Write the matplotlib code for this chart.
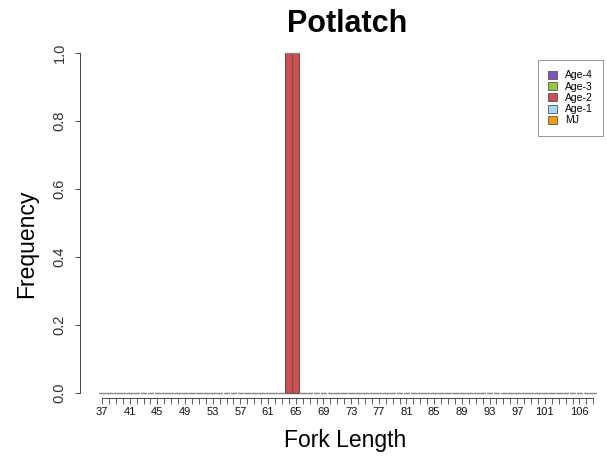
import matplotlib
matplotlib.use("Agg")
import matplotlib.pyplot as plt
from matplotlib.patches import Patch

plt.rcParams['font.family'] = ['Liberation Sans', 'DejaVu Sans']

# ---- data ----
fork_length = list(range(37, 109))          # categories 37..108
shown_labels = [37, 41, 45, 49, 53, 57, 61, 65, 69, 73, 77, 81, 85, 89, 93, 97, 101, 106]
series_names = ["Age-4", "Age-3", "Age-2", "Age-1", "MJ"]
series_colors = ["#7E57C2", "#9BC53D", "#D24D4D", "#A9D8F2", "#F7990C"]

age4 = [0.0] * 72
age3 = [0.0] * 72
age1 = [0.0] * 72
mj = [0.0] * 72
age2 = [0.0, 0.0, 0.0, 0.0, 0.0, 0.0, 0.0, 0.0, 0.0, 0.0,   # 37-46
        0.0, 0.0, 0.0, 0.0, 0.0, 0.0, 0.0, 0.0, 0.0, 0.0,   # 47-56
        0.0, 0.0, 0.0, 0.0, 0.0, 0.0, 0.0, 1.0, 1.0, 0.0,   # 57-66
        0.0, 0.0, 0.0, 0.0, 0.0, 0.0, 0.0, 0.0, 0.0, 0.0,   # 67-76
        0.0, 0.0, 0.0, 0.0, 0.0, 0.0, 0.0, 0.0, 0.0, 0.0,   # 77-86
        0.0, 0.0, 0.0, 0.0, 0.0, 0.0, 0.0, 0.0, 0.0, 0.0,   # 87-96
        0.0, 0.0, 0.0, 0.0, 0.0, 0.0, 0.0, 0.0, 0.0, 0.0,   # 97-106
        0.0, 0.0]                                           # 107-108
series = [age4, age3, age2, age1, mj]

# ---- figure ----
W, H = 607, 461
fig = plt.figure(figsize=(W / 100, H / 100), dpi=100)
px_step = 6.92
left_px, x0_px = 80, 102
xmin = -(x0_px - left_px) / px_step
xmax = (len(fork_length) - 1) - xmin
right_px = x0_px + xmax * px_step
top_px, bot_px = 39.1, 406.6
ax = fig.add_axes([left_px / W, (H - bot_px) / H, (right_px - left_px) / W, (bot_px - top_px) / H])
ax.set_xlim(xmin, xmax)
ax.set_ylim(-0.04, 1.04)

idx = list(range(len(fork_length)))
bottom = [0.0] * len(idx)
for name, col, vals in zip(series_names, series_colors, series):
    widths = [1.0 if v > 0 else 0.82 for v in vals]
    edges = ["#5a5a5a" if v > 0 else "#8a8a8a" for v in vals]
    ax.bar(idx, vals, width=widths, bottom=bottom, color=col,
           edgecolor=edges, linewidth=0.8, zorder=2)
    bottom = [b + v for b, v in zip(bottom, vals)]

# axes styling
for s in ["top", "right"]:
    ax.spines[s].set_visible(False)
ax.spines["left"].set_bounds(0, 1)
ax.spines["left"].set_linewidth(0.7)
ax.spines["left"].set_color("#444444")
ax.spines["bottom"].set_position(("data", -0.0147))
ax.spines["bottom"].set_bounds(0, len(idx) - 1)
ax.spines["bottom"].set_linewidth(0.7)
ax.spines["bottom"].set_color("#444444")

ax.set_yticks([0, 0.2, 0.4, 0.6, 0.8, 1.0])
ax.set_yticklabels(["0.0", "0.2", "0.4", "0.6", "0.8", "1.0"], rotation=90, va="center")
ax.tick_params(axis="y", direction="out", length=3.5, width=0.7, pad=6, labelsize=10.5,
               colors="#444444", labelcolor="#333333")

ax.set_xticks(idx)
ax.set_xticklabels([str(v) if v in shown_labels else "" for v in fork_length])
ax.tick_params(axis="x", direction="out", length=4.2, width=0.6, pad=2.5, labelsize=8,
               colors="#444444", labelcolor="#111111")

# texts
fig.text(347 / W, 1 - 24 / H, "Potlatch", ha="center", va="center",
         fontsize=22, fontweight="bold")
fig.text(345 / W, 1 - 440 / H, "Fork Length", ha="center", va="center", fontsize=16.5)
fig.text(27 / W, 1 - 244 / H, "Frequency", ha="center", va="center", fontsize=16.5,
         rotation=90)

# legend
handles = [Patch(facecolor=c, edgecolor="#555555", linewidth=0.6) for c in series_colors]
leg = fig.legend(handles, series_names, loc="upper left",
                 bbox_to_anchor=(538 / W, 1 - 60 / H), fontsize=7.5,
                 frameon=True, fancybox=False, edgecolor="#666666",
                 borderpad=1.0, labelspacing=0.12, handlelength=0.8, handleheight=0.8,
                 handletextpad=0.8, borderaxespad=0)
leg.get_frame().set_linewidth(0.6)

fig.savefig("out.png", dpi=100)
